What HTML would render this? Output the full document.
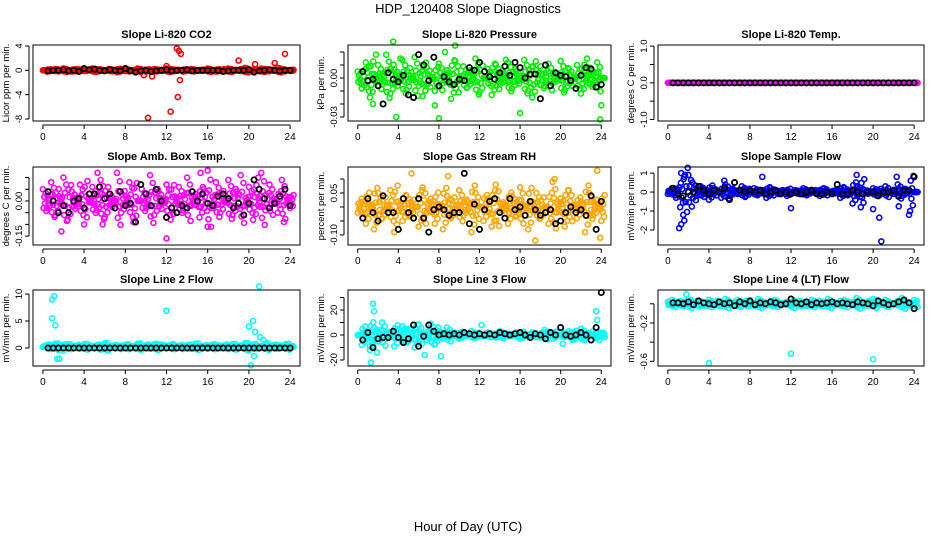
<!DOCTYPE html>
<html><head><meta charset="utf-8"><style>
body{margin:0;background:#fff;font-family:"Liberation Sans",sans-serif}
svg text{font-family:"Liberation Sans",sans-serif}
</style></head><body>
<svg id="c" width="936" height="540" viewBox="0 0 936 540">
<text x="468" y="13" text-anchor="middle" font-size="13">HDP_120408  Slope Diagnostics</text>
<text x="468" y="531" text-anchor="middle" font-size="13">Hour of Day (UTC)</text>
</svg>
<script>
const xTicks=[0,4,8,12,16,20,24];
const titles=["Slope Li-820 CO2","Slope Li-820 Pressure","Slope Li-820 Temp.","Slope Amb. Box Temp.","Slope Gas Stream RH","Slope Sample Flow","Slope Line 2 Flow","Slope Line 3 Flow","Slope Line 4 (LT) Flow"];
const yLabels=["Licor ppm per min.","kPa per min.","degrees C per min.","degrees C per min.","percent per min.","mV/min per min.","mV/min per min.","mV/min per min.","mV/min per min."];
const colors=["#ff0000","#00ee00","#ff00ff","#ff00ff","#ffa500","#0000ff","#00ffff","#00ffff","#00ffff"];
const yMin=[-8.33,-0.0331,-1.04,-0.188,-0.136,-2.79,-3.33,-24.8,-0.649];
const yMax=[4.16,0.0254,1.03,0.145,0.143,1.32,10.74,36,0.144];
const yTicks=[[-8,-4,0,4],[-0.03,-0.02,-0.01,0,0.01,0.02],[-1,-0.5,0,0.5,1],[-0.15,-0.1,-0.05,0,0.05,0.1],[-0.1,-0.05,0,0.05,0.1],[-2,-1,0,1],[0,5,10],[-20,-10,0,10,20,30],[-0.6,-0.4,-0.2,0]];
const yTickLabels=[["-8","-4","0","4"],["-0.03","","","0.00","",""],["-1.0","","0.0","","1.0"],["-0.15","","","0.00","",""],["-0.10","","","0.05",""],["-2","-1","0","1"],["0","5","10"],["-20","","0","","20",""],["-0.6","","-0.2",""]];
const scale=[0.1,0.001,1,0.01,0.01,0.1,0.1,1,0.01];
const colorVals=[
[0,-2,1,2,-1,3,0,-2,2,1,-1,0,3,-2,1,0,2,-1,-3,1,2,0,-1,3,1,-2,0,2,1,-1,3,2,-1,0,-2,1,2,0,-1,1,3,0,-2,1,2,3,-1,0,2,4,1,-2,0,3,2,-1,1,4,2,0,-1],
[5,-8,12,-15,3,10,-5,18,-12,7,-3,14,-9,2,16,-6,-14,8,1,-10,11,-4,6,-16,13,-2,9,-7,4,15,-11,0,7,-13,10,-5,3,12,-8,5,-2,14,-10,-15,6,9,-6,11,-4,2,13,-9,7,-1,10,-12,4,8,-5,12,0],
[0,0,0,0,0,0,0,0,0,0,0,0,0,0,0,0,0,0,0,0,0,0,0,0,0,0,0,0,0,0,0,0,0,0,0,0,0,0,0,0,0,0,0,0,0,0,0,0,0,0,0,0,0,0,0,0,0,0,0,0,0],
[5,-3,8,-6,2,10,-8,4,-2,7,-10,1,6,-4,9,-7,3,-1,12,-5,2,8,-9,0,5,-3,11,-6,4,-1,7,-8,2,6,-4,10,-2,3,-7,5,13,-3,8,-5,1,9,-6,4,11,-2,6,-8,3,12,-4,7,1,-5,9,2,-3],
[-2,3,-6,1,-8,5,-4,-1,6,-9,2,-5,4,-3,0,-7,7,-2,3,-6,1,-8,4,-4,-1,6,-3,2,-9,5,0,-5,3,-7,8,-2,1,-6,4,-3,7,-1,-8,2,5,-4,0,-6,9,-2,3,-7,6,-1,-4,2,-9,5,-3,1,-5],
[-1,2,-3,-8,-15,9,5,-2,3,-1,-4,2,0,-3,4,-2,1,-1,3,-2,0,2,-1,1,-3,2,0,-1,1,-2,0,1,-1,2,-1,0,1,-2,2,0,-1,1,-3,2,-1,-6,3,-8,1,0,2,-2,-1,3,0,-1,4,-2,1,-10,0],
[2,5,-2,8,3,-5,6,1,4,-1,7,2,0,5,-3,9,1,4,2,-2,6,0,3,8,-1,5,2,7,-4,3,1,6,0,4,-2,5,2,8,1,3,-1,6,3,0,5,-2,7,2,4,9,-4,6,1,3,8,0,5,2,4,7,1],
[0,-8,3,-12,6,-5,10,-3,2,-9,5,7,-6,4,-10,8,1,-4,9,-7,3,-2,6,-1,2,-3,1,0,3,-2,1,-1,2,0,-2,3,-1,1,0,2,-3,1,-1,2,0,-2,4,1,-3,0,2,-1,3,-4,1,5,-2,0,3,-1,2],
[2,4,0,3,-1,5,1,3,2,-2,4,0,3,1,5,-1,2,4,0,3,1,-2,5,2,0,3,4,1,-1,2,5,0,3,2,-2,4,1,3,0,5,2,-1,3,4,0,2,6,1,-2,3,5,0,2,4,1,-1,3,6,2,0,4]];
const blackVals=[
[-1,0,0,1,-1,0,-2,3,1,2,0,-1,1,0,-1,3,-1,-3,-1,0,-2,-1,0,1,-1,0,0,1,-1,0,0,0,0,0,-2,-1,0,0,0,1,-3,-1,0,1,0,-1,0,0],
[5,-2,-1,-6,-20,4,-1,-3,2,-13,-15,18,10,-2,16,-6,1,-3,-5,-1,-2,8,6,12,5,1,-1,4,9,2,12,8,0,3,3,-16,10,-6,4,2,1,-2,-8,2,8,7,-7,-5],
[0,0,0,0,0,0,0,0,0,0,0,0,0,0,0,0,0,0,0,0,0,0,0,0,0,0,0,0,0,0,0,0,0,0,0,0,0,0,0,0,0,0,0,0,0,0,0,0],
[4,0,-5,-2,-5,0,1,-3,3,3,6,1,3,-3,4,-2,-1,-9,7,3,-2,5,0,-7,-3,-5,-2,-3,4,0,3,-1,-2,2,3,1,-3,-1,-6,-1,9,5,1,-3,-1,2,5,-2],
[-4,3,-2,-5,4,-2,-2,-8,3,-2,-4,3,-4,-9,-1,0,-1,-3,-2,-2,12,-6,1,-8,-1,2,3,-2,-4,3,-1,0,-3,2,-1,-3,-2,-1,-6,-5,-2,0,-2,-1,-3,4,-8,2],
[2,-1,-2,0,0,3,1,-1,1,0,2,-4,5,1,0,1,0,1,-1,0,1,-1,0,-1,0,-1,0,1,-1,-1,0,-1,4,-1,-1,1,0,-1,0,0,-2,0,0,1,-2,1,1,8],
[0,0,0,0,0,0,0,0,0,0,0,0,0,0,0,0,0,0,0,0,0,0,0,0,0,0,0,0,0,0,0,0,0,0,0,0,0,0,0,0,0,0,0,0,0,0,0,0],
[-4,2,-10,-3,-2,-2,3,-2,-6,-3,8,-9,-1,8,3,0,1,0,1,0,2,1,0,1,0,1,0,2,1,0,1,2,0,-2,1,0,-3,2,0,6,0,-1,0,2,0,-4,6,34],
[1,1,0,2,-1,3,1,0,-1,2,0,1,-2,2,0,3,-1,1,0,2,1,-1,0,5,1,0,2,-1,1,0,1,2,0,1,0,-1,2,1,0,-2,3,1,-1,0,2,4,1,-5]];
const outHours=[
[10.2,12.4,13.1,13,13.2,13.4,13.3,10.6,9.8,19,20.6,22.5,23.5,12],
[0.4,1.5,1.8,3.5,3.8,4.2,7.6,8,8.6,9.6,16,22.6,23.9,14.6,24],
[],
[1.8,5.3,5.8,12,15.3,16,20.9,23.4],
[5.3,8.9,19.4,23.6,17.5,23.9],
[1.1,1.3,1.5,1.3,1.6,5.5,9.2,12,18.4,20,20.6,20.8,22.3,22.5,23.5],
[0.9,1.1,0.9,1.2,1.4,1.6,12,20.2,20,20.4,20.6,21,21.1,20.5,21.4],
[1.5,1.6,1.3,1.9,1.2,6.6,8.2,12.2,23.5,23.6,23.8,20.2],
[1.8,4,12,20]];
const outVals=[
[-7.8,-6.8,-4.4,3.6,3.2,2.7,-1.6,-1,-0.8,1.6,1,1.2,2.7,0.7],
[-0.008,-0.02,0.018,0.028,-0.03,0.015,-0.021,-0.031,0.02,0.025,-0.027,0.015,-0.032,0.014,-0.021],
[],
[-0.13,0.12,-0.1,-0.16,0.12,-0.11,0.1,-0.09],
[0.12,0.11,0.1,0.13,-0.12,-0.11],
[-1.9,-1.7,-1.2,1,0.8,0.6,0.8,-0.85,0.9,-0.9,-1.35,-2.6,0.8,-0.75,-1.2],
[9,9.6,5.5,4.2,-2,-2,6.9,-3.2,4,5,3,11.4,2,-1.5,1.5],
[25,19,-22,-14,-9,-16,-17,8,19,12,-4,-7],
[0.1,-0.62,-0.52,-0.58]];
const boxL=[33,348,658],boxR=[300,611,924],boxT=[45,167,290],boxB=[121,245,366],titleY=[38,160,283];
const jitterFactors=[1,-0.6,0.35,-0.2,0.7,-0.85];
const NS="http://www.w3.org/2000/svg";
const svg=document.getElementById('c');
function mk(tag,attrs,parent){const e=document.createElementNS(NS,tag);for(const k in attrs)e.setAttribute(k,attrs[k]);(parent||svg).appendChild(e);return e;}
for(let p=0;p<9;p++){
  const col=p%3,row=Math.floor(p/3);
  const L=boxL[col],R=boxR[col],T=boxT[row],B=boxB[row];
  const g=mk('g',{});
  
  
  const xs=h=>L+(h+0.96)/25.92*(R-L);
  const ys=v=>B-(v-yMin[p])/(yMax[p]-yMin[p])*(B-T);
  const t=mk('text',{x:(L+R)/2,y:titleY[row],'text-anchor':'middle','font-size':11,'font-weight':'bold'},g);
  t.textContent=titles[p];
  
  
  const pts=mk('g',{fill:'none','stroke-width':1.6},g);
  
  
  const base=(p==6?0.3:0);
  colorVals[p].forEach((v,i)=>{
    jitterFactors.forEach((f,k)=>{
      const c=mk('circle',{cx:xs(i*0.4+k*0.067),cy:ys(v*f*scale[p]+(k?base:0)),r:2.5,stroke:colors[p]},pts);
      
      
    });
  });
  outHours[p].forEach((h,i)=>{
    const c=mk('circle',{cx:xs(h),cy:ys(outVals[p][i]),r:2.5,stroke:colors[p]},pts);
    
    
  });
  blackVals[p].forEach((v,i)=>{
    const c=mk('circle',{cx:xs(0.5+i*0.5),cy:ys(v*scale[p]),r:2.6,stroke:'#000','stroke-width':1.8},pts);
    
    
  });
  const box=mk('rect',{x:L,y:T,width:R-L,height:B-T,fill:'none',stroke:'#000','stroke-width':1},g);
  
  
  mk('line',{x1:xs(0),x2:xs(24),y1:B+4,y2:B+4,stroke:'#000'},g);
  xTicks.forEach(h=>{
    mk('line',{x1:xs(h),x2:xs(h),y1:B+4,y2:B+8,stroke:'#000'},g);
    const tx=mk('text',{x:xs(h),y:B+19,'text-anchor':'middle','font-size':10},g);
    tx.textContent=h;
    
    
  });
  const yt=yTicks[p];
  mk('line',{x1:L-4,x2:L-4,y1:ys(yt[0]),y2:ys(yt[yt.length-1]),stroke:'#000'},g);
  yt.forEach((v,i)=>{
    mk('line',{x1:L-8,x2:L-4,y1:ys(v),y2:ys(v),stroke:'#000'},g);
    if(yTickLabels[p][i]){
      const tx=mk('text',{x:L-11,y:ys(v),'text-anchor':'middle','font-size':9.5,transform:`rotate(-90 ${L-11} ${ys(v)})`},g);
      tx.textContent=yTickLabels[p][i];
      
      
    }
  });
  const yl=mk('text',{x:L-24,y:(T+B)/2,'text-anchor':'middle','font-size':9.5,transform:`rotate(-90 ${L-24} ${(T+B)/2})`},g);
  yl.textContent=yLabels[p];
  
  
}
</script>
</body></html>
